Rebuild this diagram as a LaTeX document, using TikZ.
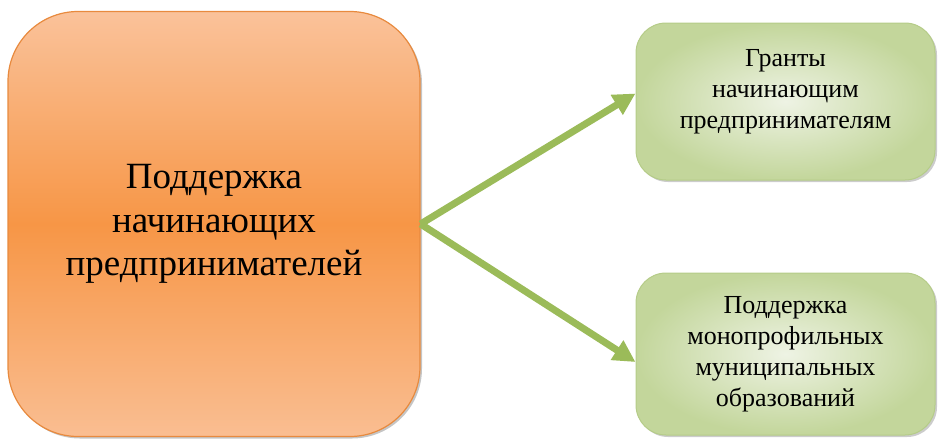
\documentclass[tikz,border=0pt]{standalone}
\usepackage{fontspec}
\setmainfont{Liberation Serif}
\usetikzlibrary{arrows.meta}
\usetikzlibrary{shadows}
\definecolor{orlight}{HTML}{FAC29A}
\definecolor{ormid}{HTML}{F79646}
\definecolor{oredge}{HTML}{E88A3E}
\definecolor{grlight}{HTML}{EEF3E4}
\definecolor{grdark}{HTML}{C3D69B}
\definecolor{gredge}{HTML}{B5CC88}
\definecolor{arrowgreen}{HTML}{9BBB59}
\tikzset{
	leadbox/.style={draw=oredge, line width=1.2pt, rounded corners=70pt,
		top color=orlight, bottom color=orlight!90!ormid, middle color=ormid,
		minimum width=412pt, minimum height=425pt, align=center,
		font=\fontsize{37}{43.5}\selectfont,
		drop shadow={shadow xshift=2pt, shadow yshift=-2pt, fill=black!45}},
	kindbox/.style={draw=gredge, line width=1pt, rounded corners=30pt,
		inner color=grlight, outer color=grdark,
		minimum width=299pt, align=center,
		font=\fontsize{26}{31}\selectfont,
		drop shadow={shadow xshift=2pt, shadow yshift=-2pt, fill=black!40}},
	flow/.style={-{Triangle[length=22pt,width=22pt]}, line width=7pt, arrowgreen}
}
\begin{document}
\begin{tikzpicture}[x=1pt, y=-1pt]
	\useasboundingbox (0,0) rectangle (940,440);
	\node[leadbox] (lead) at (214,224) {Поддержка\\начинающих\\предпринимателей};
	\node[kindbox, minimum height=157pt, text depth=26pt] (grant) at (785.5,101.5) {Гранты\\начинающим\\предпринимателям};
	\node[kindbox, minimum height=162pt] (mono) at (785.5,354) {Поддержка\\монопрофильных\\муниципальных\\образований};
	\draw[flow] (lead.east) -- ([yshift=8pt]grant.west);
	\draw[flow] (lead.east) -- ([yshift=-8pt]mono.west);
\end{tikzpicture}
\end{document}
